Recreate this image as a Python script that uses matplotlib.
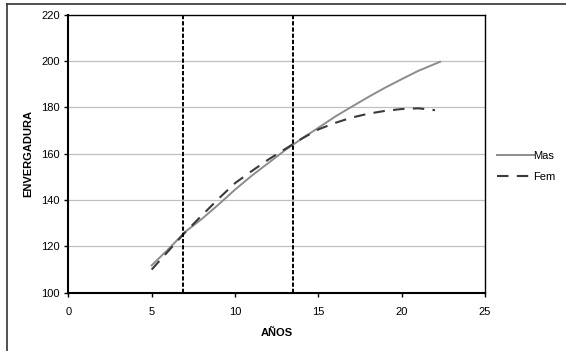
import matplotlib.pyplot as plt
from matplotlib.lines import Line2D

plt.rcParams['font.family'] = ['Liberation Sans', 'DejaVu Sans']

# ======== ENVERGADURA vs AÑOS ========

edad_mas = [5, 6, 7, 8, 9, 10, 11, 12, 13, 14, 15, 16, 17, 18, 19, 20, 21, 22, 22.3]
mas = [111.8, 118.8, 126.2, 131.8, 138.0, 144.5, 150.5, 156.0, 161.5, 166.5,
       171.2, 176.0, 180.3, 184.5, 188.5, 192.2, 195.8, 198.8, 199.7]

edad_fem = [5, 6, 7, 8, 9, 10, 11, 12, 13, 14, 15, 16, 17, 18, 19, 20, 21, 22]
fem = [110.0, 118.0, 126.0, 133.3, 140.5, 147.3, 152.5, 157.5, 162.0, 166.5,
       170.5, 173.3, 175.6, 177.3, 178.5, 179.3, 179.6, 178.8]

cortes = [6.9, 13.5]

fig = plt.figure(figsize=(5.66, 3.51), dpi=100)
ax = fig.add_axes([0.1207, 0.166, 0.857 - 0.1207, 0.958 - 0.166])

for y in [120, 140, 160, 180, 200]:
    ax.axhline(y, color="#c0c0c0", lw=0.9, zorder=0)

for c in cortes:
    ax.axvline(c, color="black", lw=1.4, linestyle=(0, (2.2, 1.0)), zorder=3)

ax.plot(edad_mas, mas, color="#8c8c8c", lw=1.4, label="Mas", zorder=2)
ax.plot(edad_fem, fem, color="#3a3a3a", lw=1.5, linestyle=(0, (5.5, 4)), label="Fem", zorder=2)

ax.set_xlim(0, 25)
ax.set_ylim(100, 220)
ax.set_xticks([0, 5, 10, 15, 20, 25])
ax.set_yticks([100, 120, 140, 160, 180, 200, 220])
ax.tick_params(labelsize=8, length=3, width=1, direction="out", pad=7)
ax.tick_params(axis="y", pad=3)

for s in ["left", "bottom"]:
    ax.spines[s].set_linewidth(1.5)
for s in ["top", "right"]:
    ax.spines[s].set_linewidth(1.0)

ax.set_xlabel("AÑOS", fontsize=8, fontweight="bold", labelpad=8)
ax.set_ylabel("ENVERGADURA", fontsize=8, fontweight="bold", labelpad=6)

handles = [Line2D([], [], color="#8c8c8c", lw=1.4),
           Line2D([], [], color="#3a3a3a", lw=1.5, linestyle=(0, (5.5, 4)))]
fig.legend(handles, ["Mas", "Fem"], loc="center left", bbox_to_anchor=(0.87, 0.525),
           frameon=False, fontsize=8, handlelength=3.3, handletextpad=0.0,
           labelspacing=1.0, borderaxespad=0)

# marco exterior (solo se ven borde izquierdo y superior)
fig.add_artist(Line2D([7 / 566, 7 / 566], [0, 1 - 4 / 351], color="#333333", lw=1.2))
fig.add_artist(Line2D([7 / 566, 1], [1 - 4 / 351, 1 - 4 / 351], color="#333333", lw=1.2))

plt.savefig("out.png")
